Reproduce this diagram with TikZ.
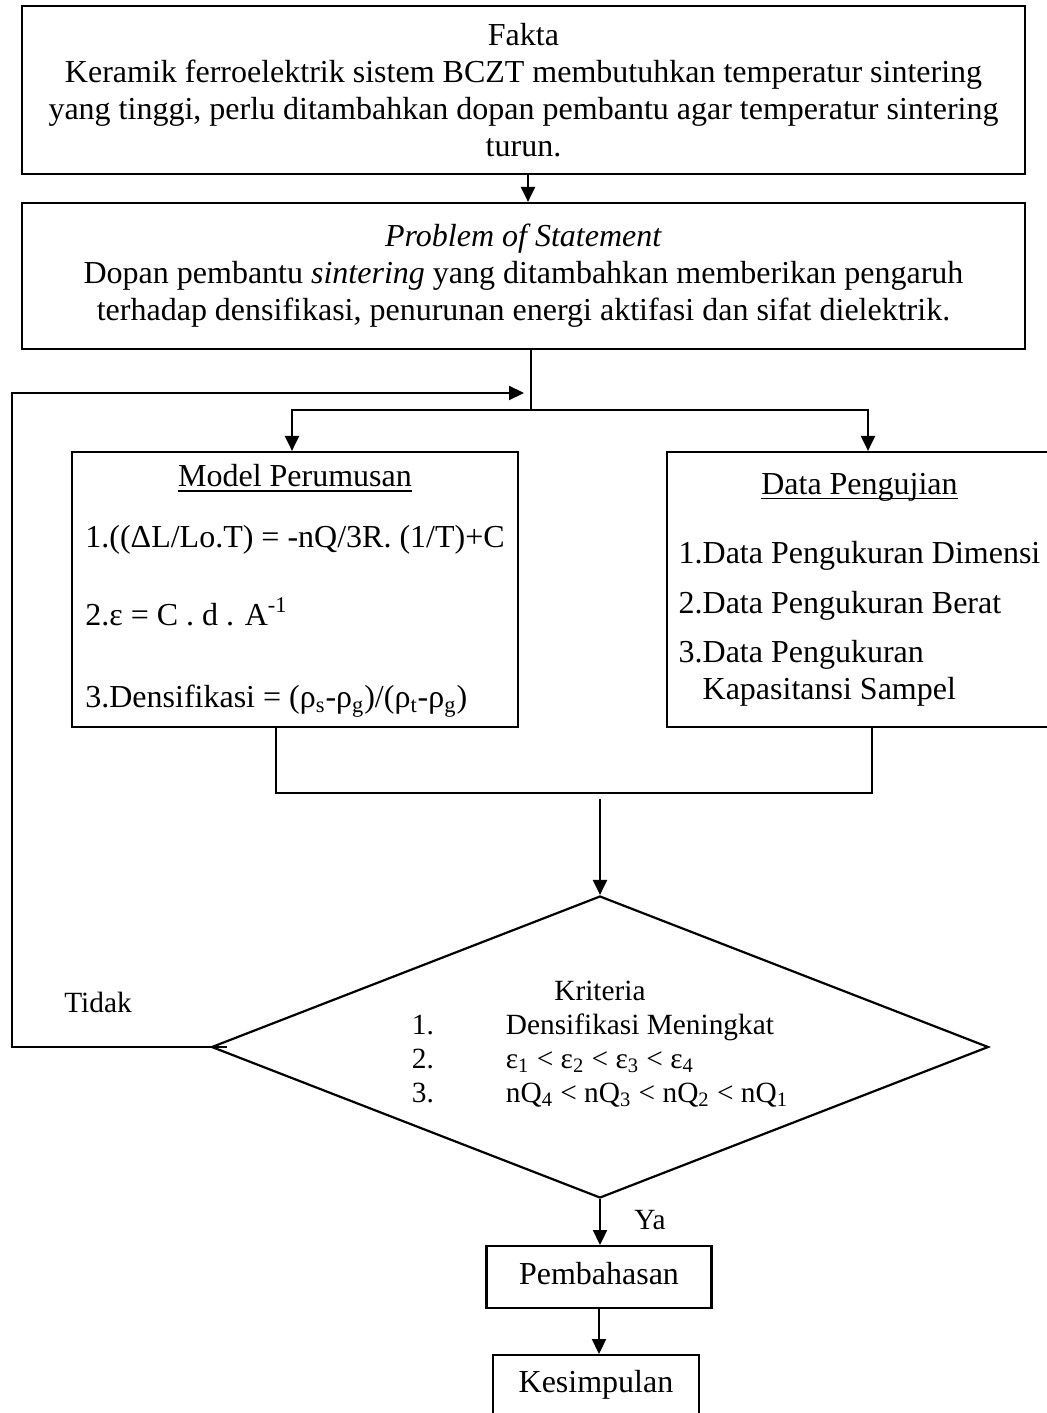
\documentclass[tikz,border=0pt]{standalone}
\usepackage{fontspec}
\setmainfont{Liberation Serif}
\usetikzlibrary{arrows.meta,shapes.geometric}

\newcommand{\ulined}[1]{\setbox0\hbox{#1}\rlap{\rule[-2.5pt]{\wd0}{0.65pt}}\box0}

\begin{document}
\begin{tikzpicture}[x=0.5pt, y=-0.5pt, line width=1.1pt,
		font=\fontsize{16}{18.5}\selectfont,
		box/.style={draw, align=center, inner sep=0pt},
		smalltext/.style={font=\fontsize{14.67}{17}\selectfont},
		arr/.style={-{Triangle[length=7.5pt,width=7pt]}}]
		\useasboundingbox (0,0) rectangle (1047,1413);
		\clip (0,0) rectangle (1047,1413);

		\node[box, minimum width=501.5pt, minimum height=84pt] (fakta) at (523.5,90)
			{Fakta\\Keramik ferroelektrik sistem BCZT membutuhkan temperatur sintering\\yang tinggi, perlu ditambahkan dopan pembantu agar temperatur sintering\\turun.};
		\node[box, minimum width=501.5pt, minimum height=73pt] (prob) at (523.5,276)
			{\textit{Problem of Statement}\\Dopan pembantu \textit{sintering} yang ditambahkan memberikan pengaruh\\terhadap densifikasi, penurunan energi aktifasi dan sifat dielektrik.};
		\node[box, minimum width=223pt, minimum height=137.5pt] (model) at (295,589.5)
			{\begin{tabular}{@{}l@{}}
				\multicolumn{1}{@{}c@{}}{\ulined{Model Perumusan}}\\[12pt]
				1.((ΔL/Lo.T) = -nQ/3R. (1/T)+C\\[19.5pt]
				2.ε = C . d . A\textsuperscript{-1}\\[22.5pt]
				3.Densifikasi = (ρ\textsubscript{s}-ρ\textsubscript{g})/(ρ\textsubscript{t}-ρ\textsubscript{g})
			\end{tabular}};
		\node[box, minimum width=192.5pt, minimum height=137.5pt] (data) at (859.5,589.5)
			{\begin{tabular}{@{}l@{}}
				\multicolumn{1}{@{}c@{}}{\ulined{Data Pengujian}}\\[16pt]
				1.Data Pengukuran Dimensi\\[6.5pt]
				2.Data Pengukuran Berat\\[6pt]
				3.Data Pengukuran\\
				\phantom{3.}Kapasitansi Sampel
			\end{tabular}};
		\node[box, smalltext, shape=diamond, aspect=2.57, minimum width=388.5pt, minimum height=151pt] (crit) at (600,1047)
			{Kriteria\\
			\begin{tabular}[t]{@{}p{47pt}@{}l@{}}
				1. & Densifikasi Meningkat\\
				2. & ε\textsubscript{1} < ε\textsubscript{2} < ε\textsubscript{3} < ε\textsubscript{4}\\
				3. & nQ\textsubscript{4} < nQ\textsubscript{3} < nQ\textsubscript{2} < nQ\textsubscript{1}
			\end{tabular}};
		\node[box, minimum width=112.5pt, anchor=north, inner ysep=8pt, text height=11pt, text depth=4pt] (pemb) at (599,1245) {Pembahasan};
		\node[box, minimum width=103pt, anchor=north, inner ysep=7.5pt, text height=11pt, text depth=15pt] (kes) at (596,1354) {Kesimpulan};
		\node[smalltext] (tidak) at (98,1002) {Tidak};
		\node[smalltext] (ya) at (650,1220) {Ya};

		\coordinate (fork) at (531,410);
		\coordinate (join) at (600,793);
		\coordinate (loopcorner) at (12,393);
		\coordinate (loopin) at (524,393);

		\draw[arr] ([xshift=2.25pt]fakta.south) -- ([xshift=2.25pt]prob.north);
		\draw (prob.south -| fork) -- (fork);
		\draw[arr] (fork) -| ([xshift=-1.5pt]model.north);
		\draw[arr] (fork) -| ([xshift=4.25pt]data.north);
		\draw ([xshift=-9.5pt]model.south) |- (join) -| ([xshift=6.25pt]data.south);
		\draw[arr] ([yshift=-3pt]join) -- (crit.north);
		\draw[arr] ([xshift=8.5pt]crit.west) -| (loopcorner) -- (loopin);
		\draw[arr] (crit.south) -- (crit.south |- pemb.north);
		\draw[arr] (pemb.south) -- (pemb.south |- kes.north);
	\end{tikzpicture}
\end{document}
